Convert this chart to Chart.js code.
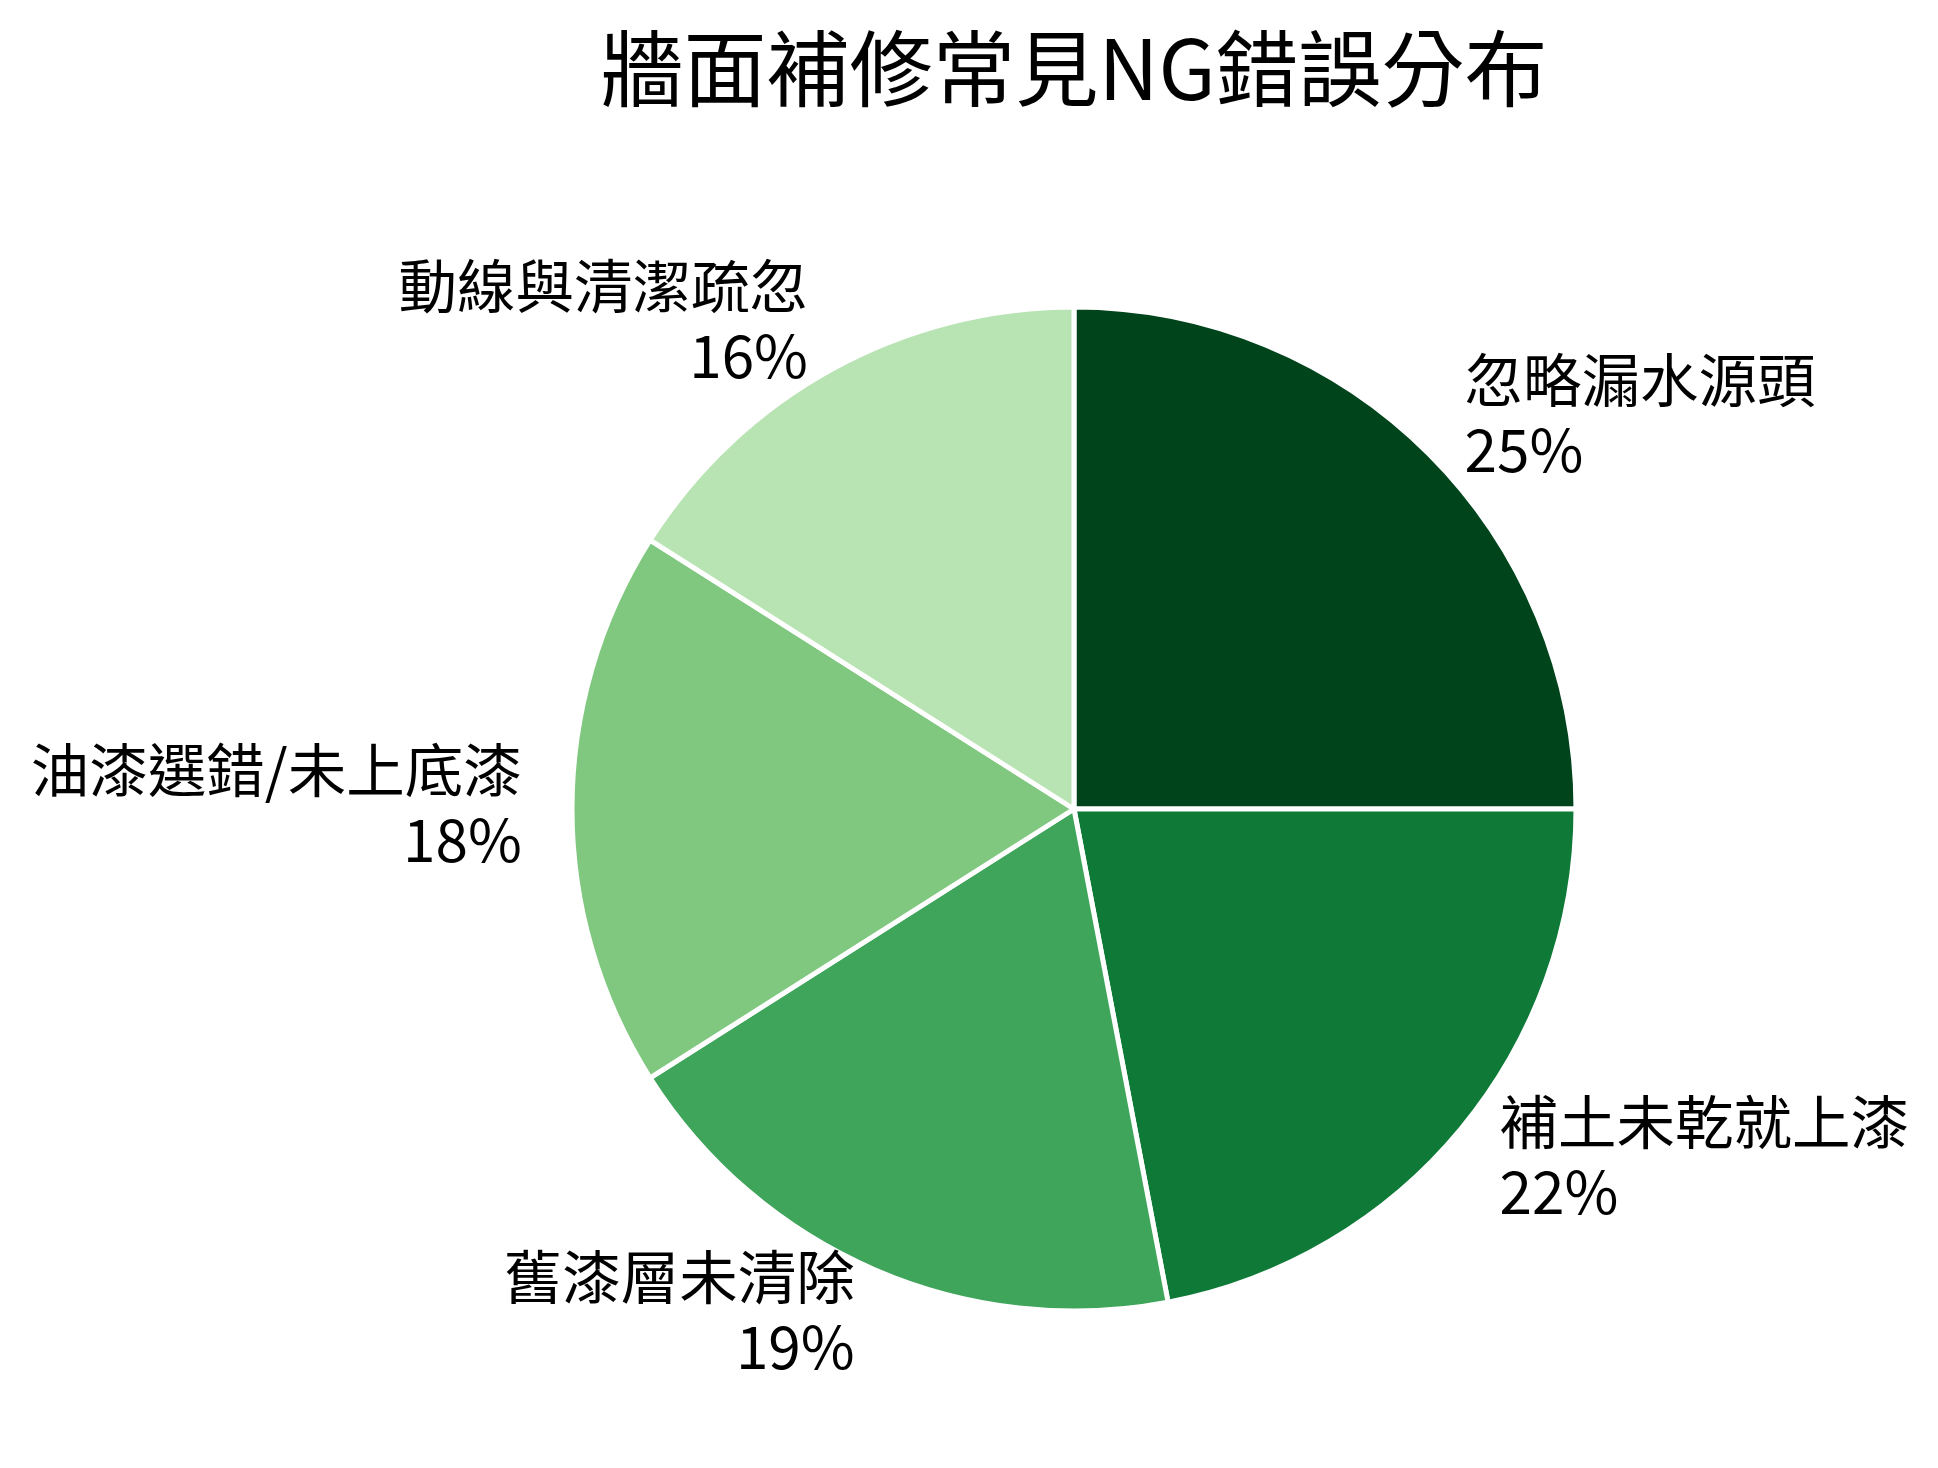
<!DOCTYPE html>
<html>
<head>
<meta charset="utf-8">
<title>牆面補修常見NG錯誤分布</title>
<script src="https://cdn.jsdelivr.net/npm/chart.js@4/dist/chart.umd.min.js"></script>
<style>
  html, body { margin: 0; padding: 0; background: #fff; }
  #wrap { width: 1938px; height: 1468px; }
</style>
</head>
<body>
<div id="wrap"><canvas id="pieChart" width="1938" height="1468"></canvas></div>
<script>
const categories = ['忽略漏水源頭', '補土未乾就上漆', '舊漆層未清除', '油漆選錯/未上底漆', '動線與清潔疏忽'];
const shares = [25, 22, 19, 18, 16];
const sliceColors = ['#00441b', '#0f7a37', '#3fa55b', '#80c880', '#b8e3b2'];
const chartTitle = '牆面補修常見NG錯誤分布';

const FONT = '"Noto Sans CJK TC", "Noto Sans CJK SC", "Noto Sans", sans-serif';

// labels sit just outside each slice, like matplotlib's labeldistance=1.1
const outsideLabels = {
  id: 'outsideLabels',
  afterDatasetsDraw(chart) {
    const ctx = chart.ctx;
    const meta = chart.getDatasetMeta(0);
    const values = chart.data.datasets[0].data;
    const total = values.reduce((a, b) => a + b, 0);
    const lineH = 70;

    ctx.save();
    ctx.font = '58.5px ' + FONT;
    ctx.fillStyle = '#000';
    ctx.textBaseline = 'middle';
    meta.data.forEach((arc, i) => {
      const { x, y, startAngle, endAngle, outerRadius } =
        arc.getProps(['x', 'y', 'startAngle', 'endAngle', 'outerRadius'], true);
      const mid = (startAngle + endAngle) / 2;
      const r = outerRadius * 1.1;
      const ax = x + Math.cos(mid) * r;
      const ay = y + Math.sin(mid) * r - 4;
      ctx.textAlign = Math.cos(mid) >= 0 ? 'left' : 'right';
      const pct = Math.round(values[i] / total * 100) + '%';
      ctx.fillText(chart.data.labels[i], ax, ay - lineH / 2);
      ctx.fillText(pct, ax, ay + lineH / 2);
    });
    ctx.restore();
  }
};

const ctx = document.getElementById('pieChart').getContext('2d');
new Chart(ctx, {
  type: 'pie',
  data: {
    labels: categories,
    datasets: [{
      data: shares,
      backgroundColor: sliceColors,
      borderColor: '#ffffff',
      borderWidth: 5,
      hoverOffset: 0
    }]
  },
  options: {
    responsive: false,
    devicePixelRatio: 1,
    animation: false,
    radius: 502,
    layout: {
      padding: { left: 210, right: 0, top: 0, bottom: 0 }
    },
    plugins: {
      legend: { display: false },
      tooltip: { enabled: false },
      title: {
        display: true,
        text: chartTitle,
        color: '#000',
        font: { family: FONT, size: 83, weight: 'normal', lineHeight: 1.2 },
        padding: { top: 19, bottom: 31.4 }
      }
    }
  },
  plugins: [outsideLabels]
});
</script>
</body>
</html>
